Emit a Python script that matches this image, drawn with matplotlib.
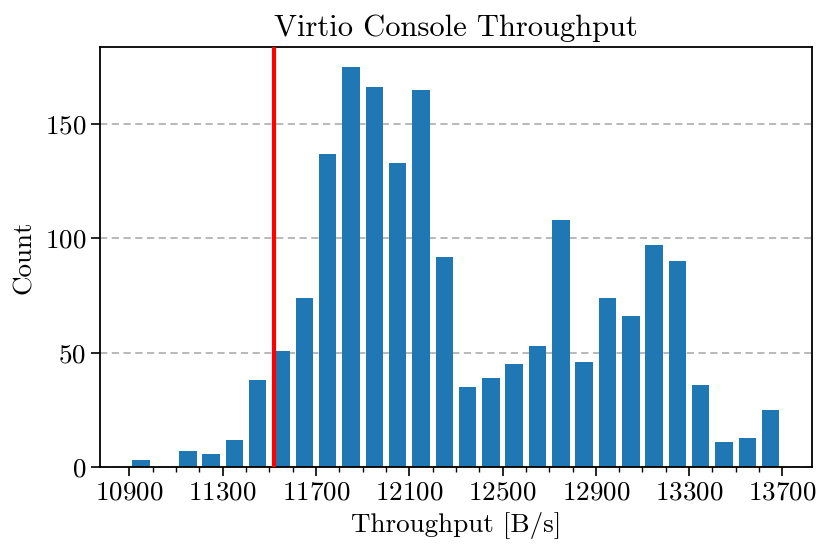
import matplotlib
matplotlib.use('Agg')

import matplotlib.pyplot as plt

# throughput bins (bin centres, B/s) and counts
bin_centers = [10950, 11050, 11150, 11250, 11350, 11450, 11550, 11650,
               11750, 11850, 11950, 12050, 12150, 12250, 12350, 12450,
               12550, 12650, 12750, 12850, 12950, 13050, 13150, 13250,
               13350, 13450, 13550, 13650]
counts = [3, 0, 7, 6, 12, 38, 51, 74,
          137, 175, 166, 133, 165, 92, 35, 39,
          45, 53, 108, 46, 74, 66, 97, 90,
          36, 11, 13, 25]
threshold = 11520

major_xticks = [10900, 11300, 11700, 12100, 12500, 12900, 13300, 13700]
minor_xticks = list(range(10900, 13800, 100))
yticks = [0, 50, 100, 150]

plt.rcParams['font.family'] = 'serif'
plt.rcParams['font.serif'] = ['cmr10']
plt.rcParams['mathtext.fontset'] = 'cm'
plt.rcParams['axes.unicode_minus'] = False
plt.rcParams['axes.formatter.use_mathtext'] = True

fig = plt.figure(figsize=(8.2, 5.51), dpi=100)
ax = fig.add_axes([0.122, 0.152, 0.868, 0.763])

ax.bar(bin_centers, counts, width=75, color='#1f77b4', zorder=2)
ax.axvline(threshold, color='red', lw=3, zorder=3)

ax.set_axisbelow(True)
ax.yaxis.grid(True, linestyle=(0, (4, 2.5)), color='0.7', lw=1.3)

ax.set_xticks(major_xticks)
ax.set_xticks(minor_xticks, minor=True)
ax.set_yticks(yticks)

ax.tick_params(axis='both', which='major', direction='out', length=6.5, width=1.2, labelsize=19.5)
ax.tick_params(axis='x', which='minor', direction='out', length=3.5, width=1.0)
for s in ax.spines.values():
    s.set_linewidth(1.3)

ax.set_title("Virtio Console Throughput", fontsize=22, pad=8)
ax.set_xlabel("Throughput [B/s]", fontsize=19.5, labelpad=5)
ax.set_ylabel("Count", fontsize=19.5, labelpad=6)

fig.savefig("out.png", dpi=100)
plt.close(fig)
